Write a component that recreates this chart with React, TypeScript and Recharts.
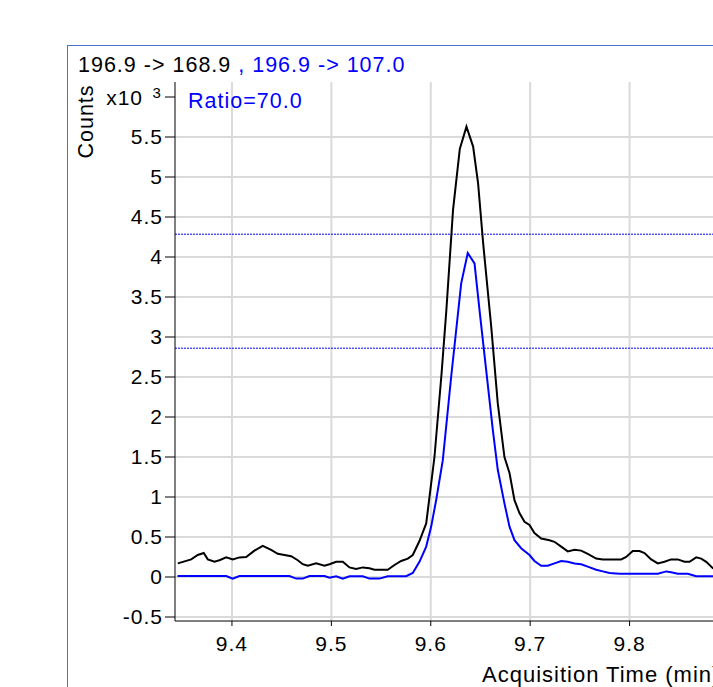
import { LineChart, Line, XAxis, YAxis, CartesianGrid, ReferenceLine } from 'recharts';

// 196.9 -> 168.9 (quantifier), times in min, counts in x10^3
const blackTime = [
  9.3455, 9.359, 9.3656, 9.3716, 9.3757, 9.3824, 9.3874, 9.3942, 9.4008, 9.4075,
  9.4143, 9.4226, 9.431, 9.4394, 9.4461, 9.4528, 9.4596, 9.4662, 9.4712, 9.4763,
  9.4847, 9.4931, 9.4981, 9.5048, 9.5115, 9.5182, 9.5249, 9.5316, 9.5383, 9.5434,
  9.5501, 9.5567, 9.5635, 9.5702, 9.5769, 9.5819, 9.5886, 9.5954, 9.6037, 9.6109,
  9.6157, 9.6224, 9.6292, 9.6359, 9.6426, 9.6476, 9.6527, 9.6608, 9.6674, 9.6741,
  9.6792, 9.6842, 9.6892, 9.6943, 9.6993, 9.7043, 9.7111, 9.7194, 9.7244, 9.7312,
  9.7378, 9.7446, 9.7513, 9.7579, 9.7664, 9.773, 9.7798, 9.7848, 9.7915, 9.7966,
  9.8032, 9.81, 9.815, 9.8217, 9.8284, 9.8351, 9.8418, 9.8485, 9.8552, 9.8603,
  9.867, 9.872, 9.8771, 9.8837, 9.8904,
];
const blackCounts = [
  0.17, 0.22, 0.275, 0.3, 0.22, 0.19, 0.21, 0.245, 0.22, 0.245,
  0.25, 0.33, 0.39, 0.34, 0.29, 0.275, 0.26, 0.21, 0.16, 0.14,
  0.17, 0.14, 0.16, 0.19, 0.19, 0.12, 0.1, 0.12, 0.11, 0.09,
  0.09, 0.09, 0.15, 0.2, 0.23, 0.275, 0.45, 0.67, 1.5, 2.55,
  3.34, 4.59, 5.35, 5.63, 5.38, 4.92, 4.17, 3.13, 2.17, 1.5,
  1.3, 0.96, 0.8, 0.69, 0.65, 0.55, 0.48, 0.46, 0.44, 0.38,
  0.32, 0.34, 0.33, 0.29, 0.23, 0.22, 0.22, 0.22, 0.22, 0.25,
  0.325, 0.325, 0.3, 0.22, 0.17, 0.19, 0.22, 0.22, 0.19, 0.19,
  0.245, 0.23, 0.19, 0.11, 0.08,
];

// 196.9 -> 107.0 (qualifier)
const blueTime = [
  9.3452, 9.3942, 9.4008, 9.4075, 9.4578, 9.4646, 9.4712, 9.478, 9.4931, 9.4981,
  9.5048, 9.5115, 9.5182, 9.5316, 9.5383, 9.5483, 9.5567, 9.5752, 9.5819, 9.5886,
  9.5954, 9.6004, 9.6054, 9.6121, 9.6205, 9.6306, 9.6372, 9.644, 9.649, 9.6557,
  9.6624, 9.6674, 9.6741, 9.6792, 9.6842, 9.6909, 9.6993, 9.7043, 9.7111, 9.7177,
  9.7244, 9.7312, 9.7378, 9.7446, 9.7513, 9.7579, 9.7664, 9.773, 9.7798, 9.7899,
  9.8284, 9.8368, 9.8418, 9.8485, 9.8586, 9.867, 9.8834, 9.8904,
];
const blueCounts = [
  0.0125, 0.0125, -0.02, 0.0125, 0.0125, -0.02, -0.02, 0.0125, 0.0125, -0.01,
  0.01, -0.02, 0.01, 0.01, -0.02, -0.02, 0.01, 0.01, 0.05, 0.19,
  0.38, 0.63, 0.96, 1.46, 2.5, 3.67, 4.05, 3.92, 3.34, 2.59,
  1.84, 1.34, 0.92, 0.63, 0.46, 0.36, 0.275, 0.2, 0.14, 0.14,
  0.17, 0.2, 0.19, 0.17, 0.16, 0.13, 0.09, 0.07, 0.05, 0.04,
  0.04, 0.07, 0.06, 0.04, 0.04, 0.01, 0.01, 0.01,
];

const xTicks = [9.4, 9.5, 9.6, 9.7, 9.8];
const yTicks = [-0.5, 0, 0.5, 1, 1.5, 2, 2.5, 3, 3.5, 4, 4.5, 5, 5.5, 6];
const yGrid = [-0.5, 0, 0.5, 1, 1.5, 2, 2.5, 3, 3.5, 4, 4.5, 5, 5.5];
const ratioLimits = [4.285, 2.86];

const blackData = blackTime.map((t, i) => ({ t, v: blackCounts[i] }));
const blueData = blueTime.map((t, i) => ({ t, v: blueCounts[i] }));

const FONT = '"Liberation Sans", Arial, sans-serif';

function YTick(props: any) {
  const { x, y, payload } = props;
  if (payload.value === 6) {
    // exponent marker at the top of the axis
    return (
      <g>
        <text x={x - 20} y={y + 8} textAnchor="end" fontSize={21} fill="#000">x10</text>
        <text x={x - 10.5} y={y + 1} textAnchor="start" fontSize={15} fill="#000">3</text>
      </g>
    );
  }
  return (
    <text x={x} y={y} dy={7} textAnchor="end" fontSize={21} fill="#000">
      {String(payload.value)}
    </text>
  );
}

export default function App() {
  return (
    <div
      style={{
        position: 'absolute',
        left: 0,
        top: 0,
        width: 713,
        height: 687,
        overflow: 'hidden',
        background: '#fff',
        fontFamily: FONT,
        letterSpacing: '1px',
      }}
    >
      <div
        style={{
          position: 'absolute',
          left: 67,
          top: 45,
          width: 760,
          height: 700,
          borderLeft: '1px solid #4a72c8',
          borderTop: '1px solid #4a72c8',
        }}
      />
      <div style={{ position: 'absolute', left: 0, top: 0 }}>
        <LineChart width={760} height={687} margin={{ top: 82, right: 31, left: 95, bottom: 26 }}>
          <CartesianGrid
            stroke="#dadada"
            strokeWidth={2}
            horizontalValues={yGrid}
            verticalValues={[...xTicks, 9.9]}
          />
          <XAxis
            dataKey="t"
            type="number"
            domain={[9.3427, 9.9]}
            allowDataOverflow
            ticks={xTicks}
            tickFormatter={(v: number) => v.toFixed(1)}
            height={40}
            tickSize={5}
            tickMargin={10}
            stroke="#000"
            tick={{ fontSize: 21, fill: '#000' }}
          />
          <YAxis
            type="number"
            domain={[-0.55, 6.1875]}
            allowDataOverflow
            ticks={yTicks}
            width={80}
            tickSize={10}
            tickMargin={2}
            stroke="#000"
            tick={<YTick />}
          />
          {ratioLimits.map((v) => (
            <ReferenceLine key={v} y={v} stroke="#0000ff" strokeWidth={1} strokeDasharray="2 1" />
          ))}
          <Line
            data={blackData}
            dataKey="v"
            type="linear"
            stroke="#000"
            strokeWidth={2}
            dot={false}
            isAnimationActive={false}
          />
          <Line
            data={blueData}
            dataKey="v"
            type="linear"
            stroke="#0000ff"
            strokeWidth={2}
            dot={false}
            isAnimationActive={false}
          />
        </LineChart>
      </div>
      <svg
        width={713}
        height={687}
        style={{ position: 'absolute', left: 0, top: 0, pointerEvents: 'none' }}
      >
        <text x={78} y={72} fontSize={21.5}>
          <tspan fill="#000">{'196.9 -> 168.9 '}</tspan>
          <tspan fill="#0000ff">{', 196.9 -> 107.0'}</tspan>
        </text>
        <text x={188} y={108} fontSize={21.5} fill="#0000ff">Ratio=70.0</text>
        <text
          x={93}
          y={121.5}
          fontSize={21.5}
          fill="#000"
          textAnchor="middle"
          transform="rotate(-90, 93, 121.5)"
        >
          Counts
        </text>
        <text x={482} y={682} fontSize={22} fill="#000">Acquisition Time (min)</text>
      </svg>
    </div>
  );
}
